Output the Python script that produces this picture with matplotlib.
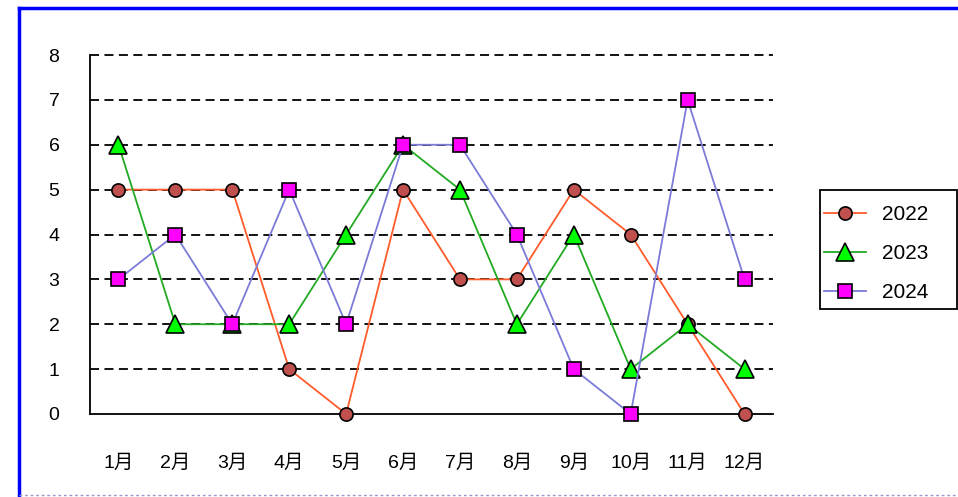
import matplotlib
matplotlib.use("Agg")
import matplotlib.pyplot as plt
from matplotlib.lines import Line2D
from matplotlib.patches import Rectangle

months = ["1月", "2月", "3月", "4月", "5月", "6月", "7月", "8月", "9月", "10月", "11月", "12月"]
s2022 = [5, 5, 5, 1, 0, 5, 3, 3, 5, 4, 2, 0]
s2023 = [6, 2, 2, 2, 4, 6, 5, 2, 4, 1, 2, 1]
s2024 = [3, 4, 2, 5, 2, 6, 6, 4, 1, 0, 7, 3]
yticks = [0, 1, 2, 3, 4, 5, 6, 7, 8]

plt.rcParams['font.family'] = ['Liberation Sans', 'Noto Sans CJK JP', 'DejaVu Sans']

W, H = 958, 497
fig = plt.figure(figsize=(W / 100, H / 100), dpi=100)
ax = fig.add_axes([90 / W, 1 - 414 / H, (773 - 90) / W, (414 - 55) / H])

x = list(range(1, len(months) + 1))
ax.plot(x, s2022, color="#FF5B2B", lw=1.3, marker="o", ms=9.5, mfc="#C0504D",
        mec="black", mew=1.2, label="2022", zorder=3, clip_on=False)
ax.plot(x, s2023, color="#22AA22", lw=1.3, marker="^", ms=13, mfc="#00FF00",
        mec="black", mew=1.2, label="2023", zorder=3, clip_on=False)
ax.plot(x, s2024, color="#7B7BD8", lw=1.3, marker="s", ms=9.5, mfc="#FF00FF",
        mec="black", mew=1.2, label="2024", zorder=3, clip_on=False)

ax.set_xlim(0.5, len(months) + 0.5)
ax.set_ylim(0, 8)
ax.set_yticks(yticks)
ax.set_xticks(x)
ax.set_xticklabels(months)
ax.tick_params(axis='both', length=0, labelsize=14)
ax.tick_params(axis='y', pad=22)
ax.tick_params(axis='x', pad=29.5)

for y in yticks[1:]:
    ax.axhline(y, color="black", lw=1.3, ls=(0, (5, 3)), zorder=1, clip_on=False)

for s in ["top", "right"]:
    ax.spines[s].set_visible(False)
ax.spines["left"].set_linewidth(1.3)
ax.spines["bottom"].set_linewidth(1.3)

leg = fig.legend(loc="upper left", bbox_to_anchor=(824 / W, 1 - 205.5 / H), fontsize=15,
                 frameon=False, borderpad=0.0, labelspacing=0.95,
                 handlelength=2.0, handletextpad=0.8, borderaxespad=0)
fig.add_artist(Rectangle((820 / W, 1 - 309 / H), (957 - 820) / W, (309 - 190) / H,
                         transform=fig.transFigure, fill=False, edgecolor="black", lw=1.3))

# outer border
fig.add_artist(Line2D([19 / W, 1], [1 - 8 / H, 1 - 8 / H], color="blue", lw=2.5, transform=fig.transFigure))
fig.add_artist(Line2D([19 / W, 19 / W], [1 - 8 / H, 1 - 495 / H], color="blue", lw=2.5, transform=fig.transFigure))
fig.add_artist(Line2D([19 / W, 1], [1 - 495 / H, 1 - 495 / H], color="#9999CC", lw=1, ls=(0, (2, 2)), transform=fig.transFigure))

fig.savefig("out.png", dpi=100)
